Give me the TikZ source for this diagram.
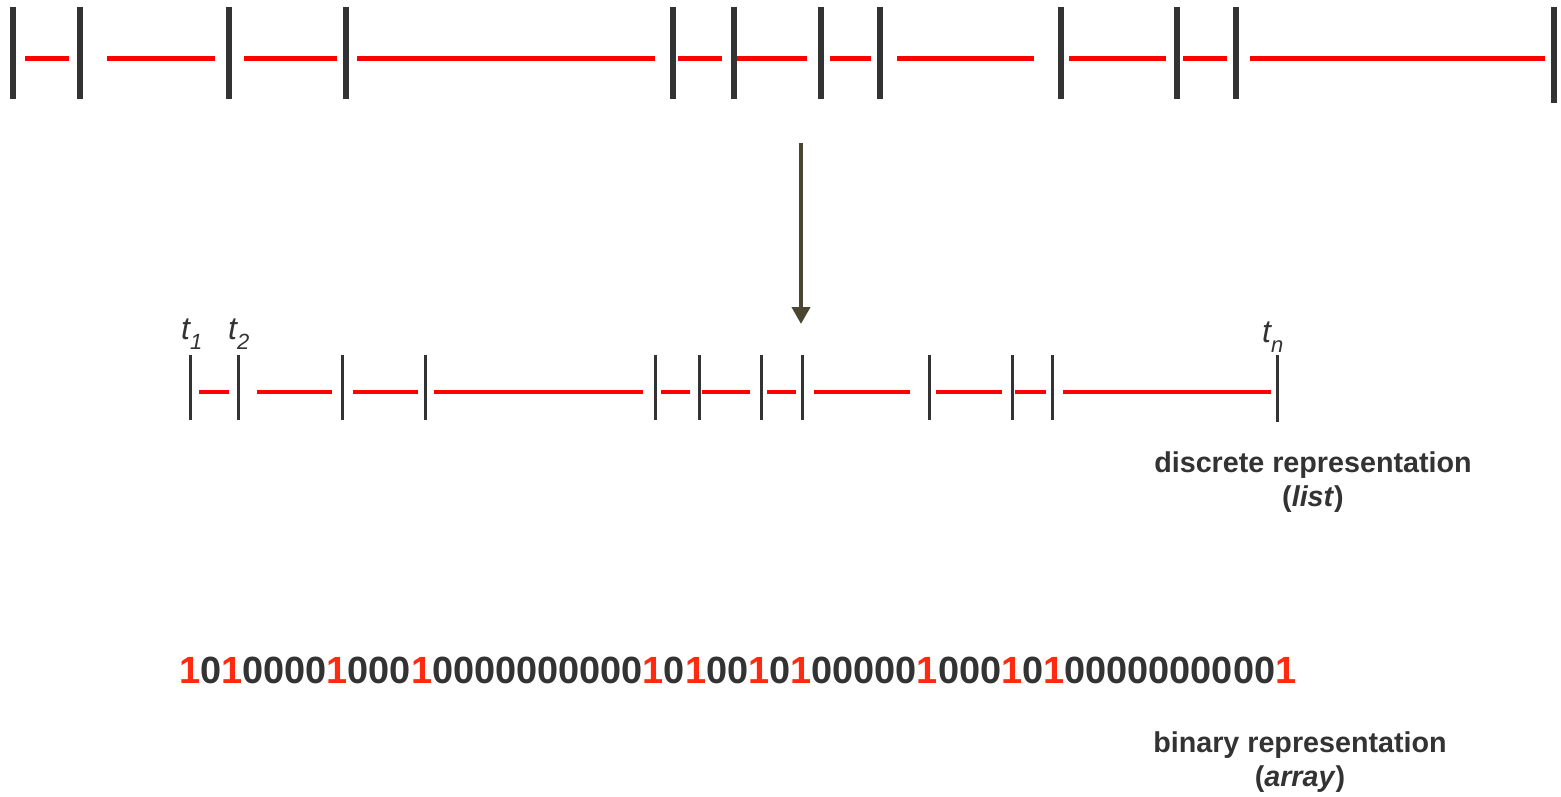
\documentclass[tikz,border=0pt]{standalone}
\usepackage{fontspec}
\setmainfont{Liberation Sans}
\usetikzlibrary{arrows.meta}
\definecolor{bargray}{HTML}{333333}
\definecolor{segred}{HTML}{FF0000}
\definecolor{onered}{HTML}{FF2A10}
\definecolor{arrowolive}{HTML}{4B4632}
\definecolor{txtgray}{HTML}{333333}
\tikzset{
  topbar/.style={draw=bargray,line width=6pt},
  topseg/.style={draw=segred,line width=5pt},
  midbar/.style={draw=bargray,line width=3pt},
  midseg/.style={draw=segred,line width=3.5pt},
  maparrow/.style={draw=arrowolive,line width=4pt,-{Triangle[width=18pt,length=17pt]}},
  tlabel/.style={inner sep=0pt,anchor=base west,text=txtgray,font=\fontsize{32}{38}\selectfont\itshape},
  caption/.style={inner sep=0pt,anchor=base,text=txtgray,font=\fontsize{28.7}{34}\selectfont\bfseries},
  bits/.style={inner sep=0pt,anchor=base west,text=txtgray,font=\fontsize{37.9}{45}\selectfont\bfseries}
}
\newcommand{\one}{\textcolor{onered}{1}}
\newcommand{\tsub}[1]{\raisebox{-10pt}{\fontsize{22}{26}\selectfont #1}}
\begin{document}
\begin{tikzpicture}[x=1pt,y=-1pt]
\useasboundingbox[fill=white] (0,0) rectangle (1561,797);
% top line
\foreach \x in {13,80,229,346,673,734,821,880,1061,1177,1236}
  \draw[topbar] (\x,7) -- (\x,99);
\draw[topbar] (1554,7) -- (1554,103);
\foreach \a/\b in {25/69,107/215,244/337,357/655,678/722,737/807,830/871,897/1034,1069/1166,1183/1227,1250/1545}
  \draw[topseg] (\a,59) -- (\b,59);
% arrow
\coordinate (arrstart) at (801,143);
\coordinate (arrend) at (801,324);
\draw[maparrow] (arrstart) -- (arrend);
% middle line
\foreach \x in {190,238,342,425,655,699,761,802,929,1012,1052}
  \draw[midbar] (\x,355) -- (\x,420);
\draw[midbar] (1277,355) -- (1277,422);
\foreach \a/\b in {199/229,257/332,353/418,434/643,661/690,702/750,767/796,814/910,936/1002,1015/1046,1063/1271}
  \draw[midseg] (\a,392) -- (\b,392);
\node[tlabel] (t1) at (181,339) {t\tsub{1}};
\node[tlabel] (t2) at (228,339) {t\tsub{2}};
\node[tlabel] (tn) at (1262,342) {t\tsub{n}};
\node[caption] (disc1) at (1313,472) {discrete representation};
\node[caption] (disc2) at (1313,506) {(\textit{list})};
% binary string
\node[bits] (bin) at (179,683) {\one0\one0000\one000\one0000000000\one0\one00\one0\one00000\one000\one0\one0000000000\one};
\node[caption] (bin1) at (1300,752) {binary representation};
\node[caption] (bin2) at (1300,786) {(\textit{array})};
\end{tikzpicture}
\end{document}
